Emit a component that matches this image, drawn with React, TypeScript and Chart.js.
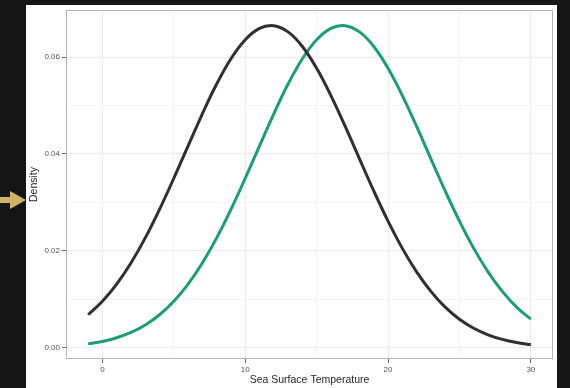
import React, { useEffect, useRef } from "react";
import { Chart, registerables } from "chart.js";

Chart.register(...registerables);

// Sea surface temperature grid (°C) and the two estimated density curves
const temperatures = [
  -1, 0, 1, 2, 3, 4, 5, 6, 7, 8, 9, 10, 11, 12, 13, 14, 15, 16, 17, 18, 19, 20,
  21, 22, 23, 24, 25, 26, 27, 28, 29, 30,
];
const densityDark = [
  0.00683, 0.00962, 0.01316, 0.01752, 0.02268, 0.02857, 0.03499, 0.04168,
  0.04829, 0.05442, 0.05964, 0.06357, 0.06591, 0.06646, 0.06518, 0.06218,
  0.05768, 0.05205, 0.04568, 0.03899, 0.03237, 0.02614, 0.02052, 0.01568,
  0.01165, 0.00841, 0.00591, 0.00404, 0.00269, 0.00174, 0.00109, 0.00067,
];
const densityGreen = [
  0.00082, 0.00132, 0.00208, 0.00317, 0.00472, 0.00683, 0.00962, 0.01316,
  0.01752, 0.02268, 0.02857, 0.03499, 0.04168, 0.04829, 0.05442, 0.05964,
  0.06357, 0.06591, 0.06646, 0.06518, 0.06218, 0.05768, 0.05205, 0.04568,
  0.03899, 0.03237, 0.02614, 0.02052, 0.01568, 0.01165, 0.00841, 0.00591,
];
const xTicks = [0, 5, 10, 15, 20, 25, 30];
const yTicks = [0, 0.01, 0.02, 0.03, 0.04, 0.05, 0.06];
const xMajor = [0, 10, 20, 30];
const yMajor = [0, 0.02, 0.04, 0.06];

const isMajor = (list: number[], v: number) =>
  list.some((m) => Math.abs(m - v) < 1e-9);

// Dark backdrop, white card and the pointer arrow on the left edge
const backdrop = {
  id: "backdrop",
  beforeDraw(chart: any) {
    const { ctx, width, height } = chart;
    ctx.save();
    ctx.fillStyle = "#151515";
    ctx.fillRect(0, 0, width, height);
    ctx.fillStyle = "#ffffff";
    ctx.fillRect(26, 5, 531, height - 5);
    ctx.fillStyle = "#d1b465";
    ctx.beginPath();
    ctx.moveTo(0, 197);
    ctx.lineTo(10, 197);
    ctx.lineTo(10, 191);
    ctx.lineTo(26, 200);
    ctx.lineTo(10, 209);
    ctx.lineTo(10, 203);
    ctx.lineTo(0, 203);
    ctx.closePath();
    ctx.fill();
    ctx.restore();
  },
};

// Panel border around the plotting area
const panelBorder = {
  id: "panelBorder",
  afterDraw(chart: any) {
    const { ctx, chartArea } = chart;
    ctx.save();
    ctx.strokeStyle = "#b5b5b5";
    ctx.lineWidth = 1;
    ctx.strokeRect(
      Math.round(chartArea.left) + 0.5,
      Math.round(chartArea.top) + 0.5,
      Math.round(chartArea.right - chartArea.left) - 1,
      Math.round(chartArea.bottom - chartArea.top) - 1
    );
    ctx.restore();
  },
};

export default function App() {
  const canvasRef = useRef<HTMLCanvasElement>(null);

  useEffect(() => {
    const canvas = canvasRef.current;
    if (!canvas) return;
    const tickFont = { family: "'Liberation Sans', Arial, sans-serif", size: 8 };
    const titleFont = { family: "'Liberation Sans', Arial, sans-serif", size: 10.5 };

    const chart = new Chart(canvas, {
      type: "line",
      data: {
        datasets: [
          {
            label: "dark",
            data: temperatures.map((t, i) => ({ x: t, y: densityDark[i] })),
            borderColor: "#303030",
            borderWidth: 3,
            pointRadius: 0,
            tension: 0.4,
            fill: false,
          },
          {
            label: "green",
            data: temperatures.map((t, i) => ({ x: t, y: densityGreen[i] })),
            borderColor: "#1b9e77",
            borderWidth: 3,
            pointRadius: 0,
            tension: 0.4,
            fill: false,
          },
        ],
      },
      options: {
        animation: false,
        responsive: false,
        devicePixelRatio: 1,
        layout: { padding: { left: 26, right: 17, top: 10, bottom: 0 } },
        plugins: {
          legend: { display: false },
          tooltip: { enabled: false },
        },
        scales: {
          x: {
            type: "linear",
            min: -2.55,
            max: 31.55,
            afterBuildTicks: (scale: any) => {
              scale.ticks = xTicks.map((v) => ({ value: v }));
            },
            afterFit: (scale: any) => {
              scale.height = 29;
            },
            border: { display: false },
            grid: {
              color: (c: any) =>
                isMajor(xMajor, c.tick?.value) ? "#ebebeb" : "#f5f5f5",
              tickColor: (c: any) =>
                isMajor(xMajor, c.tick?.value) ? "#666666" : "rgba(0,0,0,0)",
              tickLength: 4,
              lineWidth: 1,
            },
            ticks: {
              font: tickFont,
              color: "#555555",
              padding: 2,
              maxRotation: 0,
              autoSkip: false,
              callback: (v: any) => (isMajor(xMajor, Number(v)) ? String(v) : ""),
            },
            title: {
              display: true,
              text: "Sea Surface Temperature",
              font: titleFont,
              color: "#262626",
              padding: { top: 0, bottom: 2 },
            },
          },
          y: {
            type: "linear",
            min: -0.0023,
            max: 0.0697,
            afterBuildTicks: (scale: any) => {
              scale.ticks = yTicks.map((v) => ({ value: v }));
            },
            afterFit: (scale: any) => {
              scale.width = 40;
            },
            border: { display: false },
            grid: {
              color: (c: any) =>
                isMajor(yMajor, c.tick?.value) ? "#ebebeb" : "#f5f5f5",
              tickColor: (c: any) =>
                isMajor(yMajor, c.tick?.value) ? "#666666" : "rgba(0,0,0,0)",
              tickLength: 4,
              lineWidth: 1,
            },
            ticks: {
              font: tickFont,
              color: "#555555",
              padding: 2,
              autoSkip: false,
              callback: (v: any) =>
                isMajor(yMajor, Number(v)) ? Number(v).toFixed(2) : "",
            },
            title: {
              display: true,
              text: "Density",
              font: titleFont,
              color: "#262626",
              padding: { top: 2, bottom: 0 },
            },
          },
        },
      },
      plugins: [backdrop, panelBorder],
    });

    return () => chart.destroy();
  }, []);

  return (
    <div
      style={{
        position: "fixed",
        left: 0,
        top: 0,
        width: 570,
        height: 388,
        background: "#151515",
      }}
    >
      <canvas
        ref={canvasRef}
        width={570}
        height={388}
        style={{ display: "block", width: 570, height: 388 }}
      />
    </div>
  );
}
